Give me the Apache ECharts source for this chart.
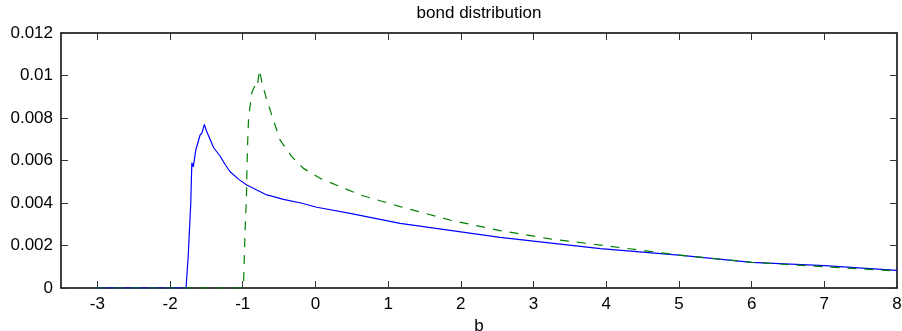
<!DOCTYPE html>
<html><head><meta charset="utf-8">
<script src="https://cdn.jsdelivr.net/npm/echarts@6/dist/echarts.min.js"></script>
<style>html,body{margin:0;padding:0;background:#fff}#c{width:902px;height:331px}</style>
</head><body><div id="c"></div>
<script>
const xTicks = [-3,-2,-1,0,1,2,3,4,5,6,7,8];
const yTicks = [0,0.002,0.004,0.006,0.008,0.01,0.012];
const xBlue = [-3,-1.78,-1.75,-1.715,-1.70,-1.68,-1.646,-1.62,-1.587,-1.56,-1.528,-1.50,-1.45,-1.40,-1.31,-1.24,-1.174,-1.05,-0.944,-0.80,-0.669,-0.60,-0.578,-0.55,-0.44,-0.2,0.019,0.477,1.165,2.54,3.92,5.0,6.0,7.0,8.0];
const yBlue = [0,0,0.0015,0.0040,0.0059,0.0057,0.0065,0.0068,0.0072,0.0073,0.0077,0.0074,0.0070,0.0066,0.0062,0.0058,0.00547,0.0051,0.00485,0.0046,0.00438,0.00432,0.00436,0.00428,0.00417,0.0040,0.0038,0.00351,0.00304,0.00238,0.00185,0.00155,0.00121,0.00105,0.00083];
const xGreen = [-3,-0.99,-0.97,-0.95,-0.936,-0.92,-0.875,-0.85,-0.816,-0.80,-0.77,-0.755,-0.738,-0.669,-0.578,-0.486,-0.325,-0.165,0.065,0.34,0.615,1.165,1.85,2.54,3.23,3.92,5,6,7,8];
const yGreen = [0,0,0.0025,0.0042,0.0065,0.0080,0.0092,0.0094,0.0096,0.0095,0.01026,0.01026,0.0097,0.00885,0.0079,0.00696,0.00618,0.00563,0.00516,0.00477,0.00438,0.00383,0.0032,0.0027,0.00231,0.00202,0.00155,0.00121,0.0010,0.0008];

const pair = (xs, ys) => xs.map((x, i) => [x, ys[i]]);
const font = 'Liberation Sans, Arial, sans-serif';
const chart = echarts.init(document.getElementById('c'), null, {renderer: 'canvas'});
const tickStyle = {show: true, inside: true, length: 7, lineStyle: {color: '#333', width: 1}};
chart.setOption({
  animation: false,
  title: {text: 'bond distribution', left: 474, top: 0, textAlign: 'center',
    textStyle: {fontFamily: font, fontSize: 17, fontWeight: 'normal', color: '#000'}},
  grid: {left: 61, right: 5, top: 33, bottom: 43, containLabel: false, outerBoundsMode: 'none'},
  xAxis: [{
    type: 'value', min: -3.5, max: 8, position: 'bottom',
    name: 'b', nameLocation: 'middle', nameGap: 27,
    nameTextStyle: {fontFamily: font, fontSize: 17, color: '#000'},
    axisLine: {show: true, onZero: false, lineStyle: {color: '#000', width: 1.5}},
    axisTick: Object.assign({customValues: xTicks}, tickStyle),
    axisLabel: {customValues: xTicks, fontFamily: font, fontSize: 17, color: '#000', margin: 8},
    splitLine: {show: false}
  }, {
    type: 'value', min: -3.5, max: 8, position: 'top',
    axisLine: {show: true, onZero: false, lineStyle: {color: '#000', width: 1.5}},
    axisTick: Object.assign({customValues: xTicks}, tickStyle),
    axisLabel: {show: false}, splitLine: {show: false}
  }],
  yAxis: [{
    type: 'value', min: 0, max: 0.012, interval: 0.002, position: 'left',
    axisLine: {show: true, onZero: false, lineStyle: {color: '#000', width: 1.5}},
    axisTick: tickStyle,
    axisLabel: {fontFamily: font, fontSize: 17, color: '#000', margin: 8,
      formatter: v => v === 0 ? '0' : String(+v.toFixed(3))},
    splitLine: {show: false}
  }, {
    type: 'value', min: 0, max: 0.012, interval: 0.002, position: 'right',
    axisLine: {show: true, onZero: false, lineStyle: {color: '#000', width: 1.5}},
    axisTick: tickStyle,
    axisLabel: {show: false}, splitLine: {show: false}
  }],
  series: [{
    type: 'line', data: pair(xBlue, yBlue), showSymbol: false, symbol: 'none',
    lineStyle: {color: '#0000ff', width: 1.2}, z: 3
  }, {
    type: 'line', data: pair(xGreen, yGreen), showSymbol: false, symbol: 'none',
    lineStyle: {color: '#008000', width: 1.2, type: [9, 8]}, z: 4
  }]
});
</script></body></html>
